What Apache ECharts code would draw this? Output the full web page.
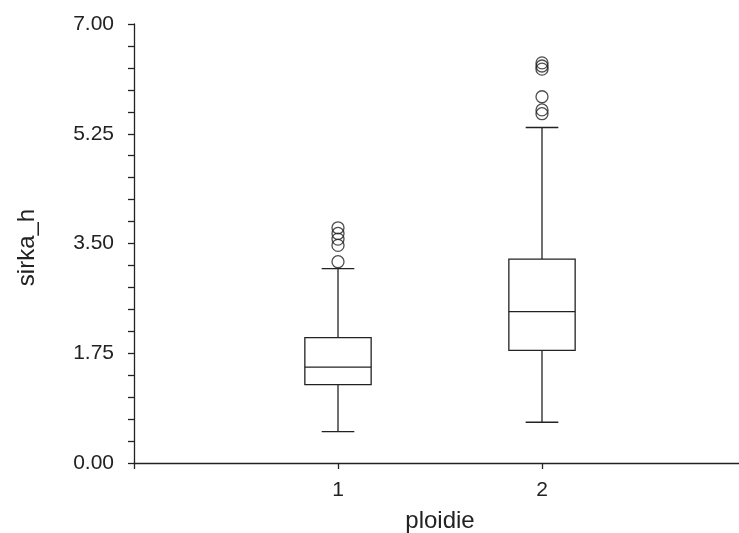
<!DOCTYPE html>
<html>
<head>
<meta charset="utf-8">
<script src="https://cdn.jsdelivr.net/npm/echarts@6/dist/echarts.min.js"></script>
<style>
  html, body { margin: 0; padding: 0; background: #fff; }
  #chart { width: 739px; height: 533px; }
</style>
</head>
<body>
<div id="chart"></div>
<script>
// Box plot of sirka_h by ploidie level
const categories = [1, 2];
const lowWhisker = [0.50, 0.65];
const quartile1 = [1.25, 1.795];
const median = [1.53, 2.415];
const quartile3 = [2.00, 3.25];
const highWhisker = [3.10, 5.35];
const outliers1 = [3.21, 3.47, 3.57, 3.66, 3.75];
const outliers2 = [5.57, 5.63, 5.84, 6.28, 6.33, 6.38];
const yTicks = [0, 1.75, 3.5, 5.25, 7];

const FONT = '"Liberation Sans", Arial, sans-serif';
const INK = '#222';
const LW = 1.3;
const BOX_W = 0.325;   // box width in x-axis units
const CAP_W = 0.16;    // whisker cap width in x-axis units

const boxData = categories.map((c, i) => [
  c, lowWhisker[i], quartile1[i], median[i], quartile3[i], highWhisker[i]
]);
const outlierData = []
  .concat(outliers1.map(v => [categories[0], v]))
  .concat(outliers2.map(v => [categories[1], v]));

function renderBox(params, api) {
  const x = api.value(0);
  const pLow = api.coord([x, api.value(1)]);
  const pQ1 = api.coord([x, api.value(2)]);
  const pMed = api.coord([x, api.value(3)]);
  const pQ3 = api.coord([x, api.value(4)]);
  const pHigh = api.coord([x, api.value(5)]);
  const bw = api.size([BOX_W, 0])[0];
  const cw = api.size([CAP_W, 0])[0];
  const cx = pMed[0];
  const line = { stroke: INK, lineWidth: LW, fill: null };
  return {
    type: 'group',
    children: [
      { type: 'line', shape: { x1: cx, y1: pQ3[1], x2: cx, y2: pHigh[1] }, style: line },
      { type: 'line', shape: { x1: cx, y1: pQ1[1], x2: cx, y2: pLow[1] }, style: line },
      { type: 'line', shape: { x1: cx - cw / 2, y1: pHigh[1], x2: cx + cw / 2, y2: pHigh[1] }, style: line },
      { type: 'line', shape: { x1: cx - cw / 2, y1: pLow[1], x2: cx + cw / 2, y2: pLow[1] }, style: line },
      { type: 'rect', shape: { x: cx - bw / 2, y: pQ3[1], width: bw, height: pQ1[1] - pQ3[1] },
        style: { stroke: INK, lineWidth: LW, fill: '#fff' } },
      { type: 'line', shape: { x1: cx - bw / 2, y1: pMed[1], x2: cx + bw / 2, y2: pMed[1] }, style: line }
    ]
  };
}

const chart = echarts.init(document.getElementById('chart'), null, { renderer: 'canvas' });
chart.setOption({
  backgroundColor: '#fff',
  animation: false,
  grid: { left: 134, right: -7, top: 24, bottom: 70, outerBoundsMode: 'none', containLabel: false },
  xAxis: {
    type: 'value',
    min: 0,
    max: 3,
    interval: 1,
    name: 'ploidie',
    nameLocation: 'middle',
    nameGap: 46,
    nameTextStyle: { fontFamily: FONT, fontSize: 24, color: INK },
    axisLine: { show: true, lineStyle: { color: INK, width: LW } },
    axisTick: { show: true, length: 6, lineStyle: { color: INK, width: LW }, customValues: [0, 1, 2] },
    axisLabel: {
      fontFamily: FONT, fontSize: 21, color: INK, margin: 17,
      customValues: categories,
      formatter: v => String(v)
    },
    splitLine: { show: false }
  },
  yAxis: {
    type: 'value',
    min: 0,
    max: 7,
    interval: 1.75,
    name: 'sirka_h',
    nameLocation: 'middle',
    nameGap: 95,
    nameTextStyle: { fontFamily: FONT, fontSize: 24, color: INK, padding: [0, 8, 0, 0] },
    axisLine: { show: true, lineStyle: { color: INK, width: LW } },
    axisTick: { show: true, length: 6, lineStyle: { color: INK, width: LW } },
    minorTick: { show: true, splitNumber: 5, length: 6, lineStyle: { color: INK, width: LW } },
    axisLabel: {
      fontFamily: FONT, fontSize: 21, color: INK, margin: 20,
      customValues: yTicks,
      formatter: v => v.toFixed(2)
    },
    splitLine: { show: false }
  },
  series: [
    {
      type: 'custom',
      renderItem: renderBox,
      encode: { x: 0, y: [1, 2, 3, 4, 5] },
      data: boxData,
      silent: true
    },
    {
      type: 'scatter',
      data: outlierData,
      symbol: 'circle',
      symbolSize: 12,
      itemStyle: { color: 'rgba(0,0,0,0)', borderColor: INK, borderWidth: LW },
      silent: true
    }
  ]
});
</script>
</body>
</html>
